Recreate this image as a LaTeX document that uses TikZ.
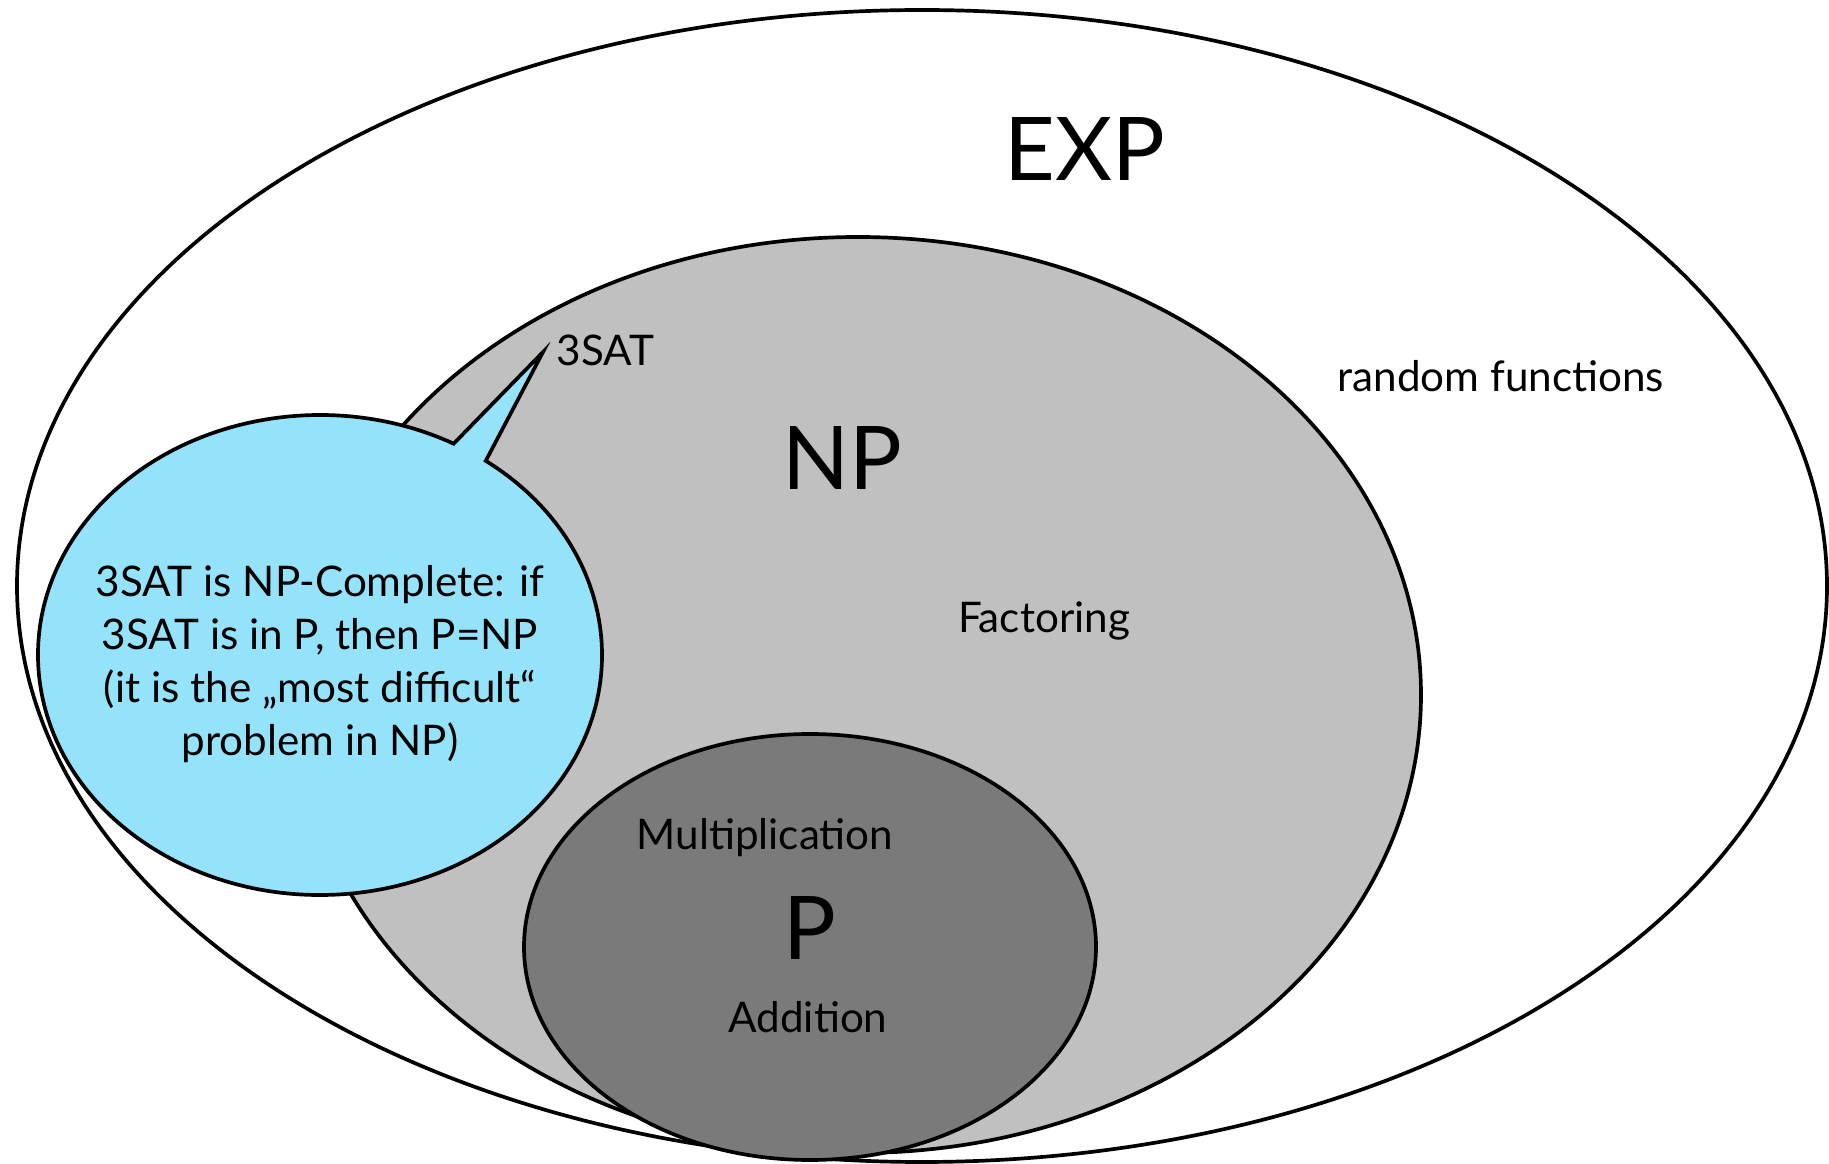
\documentclass[tikz,border=0pt]{standalone}
\usepackage{fontspec}
\setmainfont{Lato}
\usetikzlibrary{calc}
\definecolor{npgray}{RGB}{192,192,192}
\definecolor{pgray}{RGB}{122,122,122}
\definecolor{bubbleblue}{RGB}{148,227,250}
\begin{document}
\begin{tikzpicture}[x=0.01cm,y=0.01cm,
  setline/.style={draw=black,line width=1.05pt},
  classname/.style={font=\fontsize{25}{30}\selectfont,inner sep=0pt,anchor=base},
  itemname/.style={font=\fontsize{12}{14}\selectfont,inner sep=0pt,anchor=base},
  notetext/.style={font=\fontsize{12}{15}\selectfont,inner sep=0pt,align=center}]
\useasboundingbox (0,0) rectangle (1829,-1164);
\begin{scope}
  \clip (0,0) rectangle (1829,-1164);
  % nested complexity classes
  \draw[setline,fill=white] (922,-586) ellipse [x radius=905, y radius=576];
  \draw[setline,fill=npgray] (858,-695) ellipse [x radius=563, y radius=458];
  \draw[setline,fill=pgray] (810,-947) ellipse [x radius=286, y radius=213];
  % speech bubble pointing at 3SAT
  \coordinate (bc) at (320,-655);
  \coordinate (tip) at (543,-352);
  \draw[setline,fill=bubbleblue,line join=miter]
    ($(bc)+(54:282 and 240)$) arc[start angle=54, end angle=-298.3, x radius=282, y radius=240]
    -- (tip) -- cycle;
\end{scope}
\node[classname] (exp) at (1085,-181) {EXP};
\node[classname] (np) at (842,-490) {NP};
\node[classname] (p) at (810,-959) {P};
\node[itemname,anchor=base west] (sat) at (556,-366) {3SAT};
\node[itemname,anchor=base west] (rand) at (1337,-392) {random functions};
\node[itemname] (fact) at (1044,-633) {Factoring};
\node[itemname] (mult) at (765,-850) {Multiplication};
\node[itemname] (add) at (808,-1033) {Addition};
\node[notetext] (note) at (320,-664) {3SAT is NP-Complete: if\\3SAT is in P, then P=NP\\(it is the „most difficult“\\problem in NP)};
\end{tikzpicture}
\end{document}
